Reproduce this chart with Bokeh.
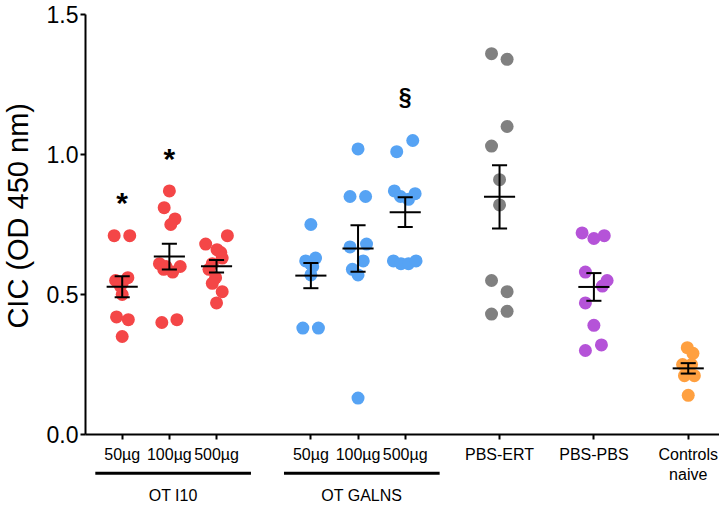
import numpy as np
from bokeh.plotting import figure
from bokeh.models import FixedTicker
from bokeh.embed import file_html
from bokeh.resources import INLINE
from bokeh.core.properties import value

# ---- data -------------------------------------------------------------
positions = [1, 2, 3, 5, 6, 7, 9, 11, 13]
tick_labels = ["50\u00b5g", "100\u00b5g", "500\u00b5g",
               "50\u00b5g", "100\u00b5g", "500\u00b5g",
               "PBS-ERT", "PBS-PBS", "Controls\nnaive"]
colors = ["#f44647", "#f44647", "#f44647",
          "#56a3f4", "#56a3f4", "#56a3f4",
          "#808080", "#b553d8", "#ffa040"]

ot_i10_50 = [0.71, 0.71, 0.56, 0.55, 0.54, 0.53, 0.50, 0.42, 0.41, 0.35]
ot_i10_50_jit = [-0.17, 0.16, 0.12, -0.14, 0.0, -0.04, 0.0, -0.12, 0.13, 0.0]
ot_i10_100 = [0.87, 0.81, 0.77, 0.75, 0.61, 0.60, 0.60, 0.58, 0.59, 0.40, 0.41]
ot_i10_100_jit = [0.0, -0.11, 0.12, 0.03, -0.21, -0.07, 0.23, 0.07, -0.12, -0.16, 0.16]
ot_i10_500 = [0.71, 0.68, 0.66, 0.65, 0.63, 0.61, 0.59, 0.56, 0.54, 0.51, 0.47]
ot_i10_500_jit = [0.23, -0.23, 0.01, 0.09, 0.12, -0.09, -0.16, -0.02, -0.09, 0.12, 0.0]
ot_galns_50 = [0.75, 0.63, 0.62, 0.61, 0.60, 0.57, 0.38, 0.38]
ot_galns_50_jit = [0.0, 0.10, -0.11, -0.01, 0.04, 0.0, -0.17, 0.16]
ot_galns_100 = [1.02, 0.85, 0.85, 0.67, 0.68, 0.62, 0.59, 0.57, 0.13]
ot_galns_100_jit = [0.0, -0.17, 0.16, -0.17, 0.18, 0.11, -0.12, 0.0, 0.0]
ot_galns_500 = [1.05, 1.01, 0.87, 0.86, 0.85, 0.84, 0.62, 0.61, 0.61, 0.62]
ot_galns_500_jit = [0.16, -0.18, -0.23, 0.21, -0.10, 0.07, -0.25, -0.09, 0.07, 0.23]
pbs_ert = [1.36, 1.34, 1.10, 1.03, 0.91, 0.82, 0.55, 0.51, 0.43, 0.44]
pbs_ert_jit = [-0.17, 0.16, 0.16, -0.17, 0.0, 0.0, -0.17, 0.16, -0.17, 0.16]
pbs_pbs = [0.72, 0.70, 0.71, 0.58, 0.55, 0.53, 0.47, 0.39, 0.32, 0.30]
pbs_pbs_jit = [-0.25, 0.0, 0.22, -0.18, 0.28, 0.18, -0.18, 0.0, 0.16, -0.18]
controls = [0.31, 0.29, 0.25, 0.25, 0.21, 0.21, 0.23, 0.14]
controls_jit = [-0.02, 0.10, -0.12, 0.07, -0.08, 0.13, 0.0, 0.0]

group_values = [ot_i10_50, ot_i10_100, ot_i10_500, ot_galns_50, ot_galns_100,
                ot_galns_500, pbs_ert, pbs_pbs, controls]
group_jitter = [ot_i10_50_jit, ot_i10_100_jit, ot_i10_500_jit, ot_galns_50_jit,
                ot_galns_100_jit, ot_galns_500_jit, pbs_ert_jit, pbs_pbs_jit, controls_jit]

y_ticks = [0.0, 0.5, 1.0, 1.5]

sig_x = [1, 2, 7]
sig_text = ["*", "*", "\u00a7"]
sig_y = [0.829, 0.986, 1.204]
sig_size = ["30px", "30px", "23px"]

super_groups = ["OT I10", "OT GALNS"]
super_members = [[1, 2, 3], [5, 6, 7]]

y_title = "CIC (OD 450 nm)"

# ---- figure -------------------------------------------------------------
# the frame fills the canvas; the axes sit at fixed data locations inside it
x_lo, x_hi = 0.222, 13.73
p = figure(width=719, height=506, x_range=(-1.58, 13.663), y_range=(-0.2571, 1.55),
           output_backend="svg", toolbar_location=None,
           min_border_left=0, min_border_right=0, min_border_top=0,
           min_border_bottom=0)
p.outline_line_color = None
p.xgrid.visible = False
p.ygrid.visible = False
p.background_fill_color = "white"

# points
xs, ys, cs = [], [], []
for pos, vals, jit, c in zip(positions, group_values, group_jitter, colors):
    for v, j in zip(vals, jit):
        xs.append(pos + j)
        ys.append(v)
        cs.append(c)
p.scatter(x=xs, y=ys, size=13, fill_color=cs, line_color=None)

# mean +/- SEM
x0, y0, x1, y1 = [], [], [], []
for pos, vals in zip(positions, group_values):
    a = np.array(vals)
    m = a.mean()
    s = a.std(ddof=1) / np.sqrt(len(a))
    x0 += [pos - 0.33, pos, pos - 0.16, pos - 0.16]
    x1 += [pos + 0.33, pos, pos + 0.16, pos + 0.16]
    y0 += [m, m - s, m + s, m - s]
    y1 += [m, m + s, m + s, m - s]
p.segment(x0=x0, y0=y0, x1=x1, y1=y1, line_color="black", line_width=2)

# significance marks
p.text(x=sig_x, y=sig_y, text=sig_text, text_font=value("Liberation Sans"),
       text_font_style="bold", text_font_size=sig_size, text_align="center",
       text_baseline="alphabetic", text_color="black")

# axes
p.xaxis.fixed_location = 0
p.xaxis.bounds = (x_lo, x_hi)
p.xaxis.ticker = FixedTicker(ticks=positions)
p.xaxis.major_label_overrides = {pos: lab for pos, lab in zip(positions, tick_labels)}
p.xaxis.major_label_text_font = "Liberation Sans"
p.xaxis.major_label_text_font_size = "16px"
p.xaxis.major_label_standoff = 6
p.xaxis.major_tick_out = 5
p.xaxis.major_tick_in = 0
p.xaxis.minor_tick_line_color = None

p.yaxis.fixed_location = x_lo
p.yaxis.bounds = (0, 1.5)
p.yaxis.ticker = FixedTicker(ticks=y_ticks)
p.yaxis.major_label_overrides = {t: f"{t:.1f}" for t in y_ticks}
p.yaxis.major_label_text_font = "Liberation Sans"
p.yaxis.major_label_text_font_size = "23px"
p.yaxis.major_label_standoff = 2
p.yaxis.major_tick_out = 5
p.yaxis.major_tick_in = 0
p.yaxis.minor_tick_line_color = None

for ax in (p.xaxis, p.yaxis):
    ax.axis_line_width = 2
    ax.major_tick_line_width = 2
    ax.axis_line_color = "black"
    ax.major_tick_line_color = "black"
    ax.major_label_text_color = "black"

# y axis title
p.text(x=[-1.21], y=[0.781], text=[y_title], angle=np.pi / 2,
       text_align="center", text_baseline="middle",
       text_font=value("Liberation Sans"), text_font_size="29px",
       text_color="black")

# group underlines and labels
gx0, gx1, gmid = [], [], []
for members in super_members:
    gx0.append(min(members) - 0.57)
    gx1.append(max(members) + 0.73)
    gmid.append((min(members) - 0.57 + max(members) + 0.73) / 2)
p.segment(x0=gx0, y0=[-0.138] * len(gx0), x1=gx1, y1=[-0.138] * len(gx1),
          line_color="black", line_width=3)
p.text(x=gmid, y=[-0.218] * len(gmid), text=super_groups,
       text_align="center", text_baseline="middle",
       text_font=value("Liberation Sans"), text_font_size="16px",
       text_color="black")

open("out.html", "w").write(file_html(p, INLINE))
